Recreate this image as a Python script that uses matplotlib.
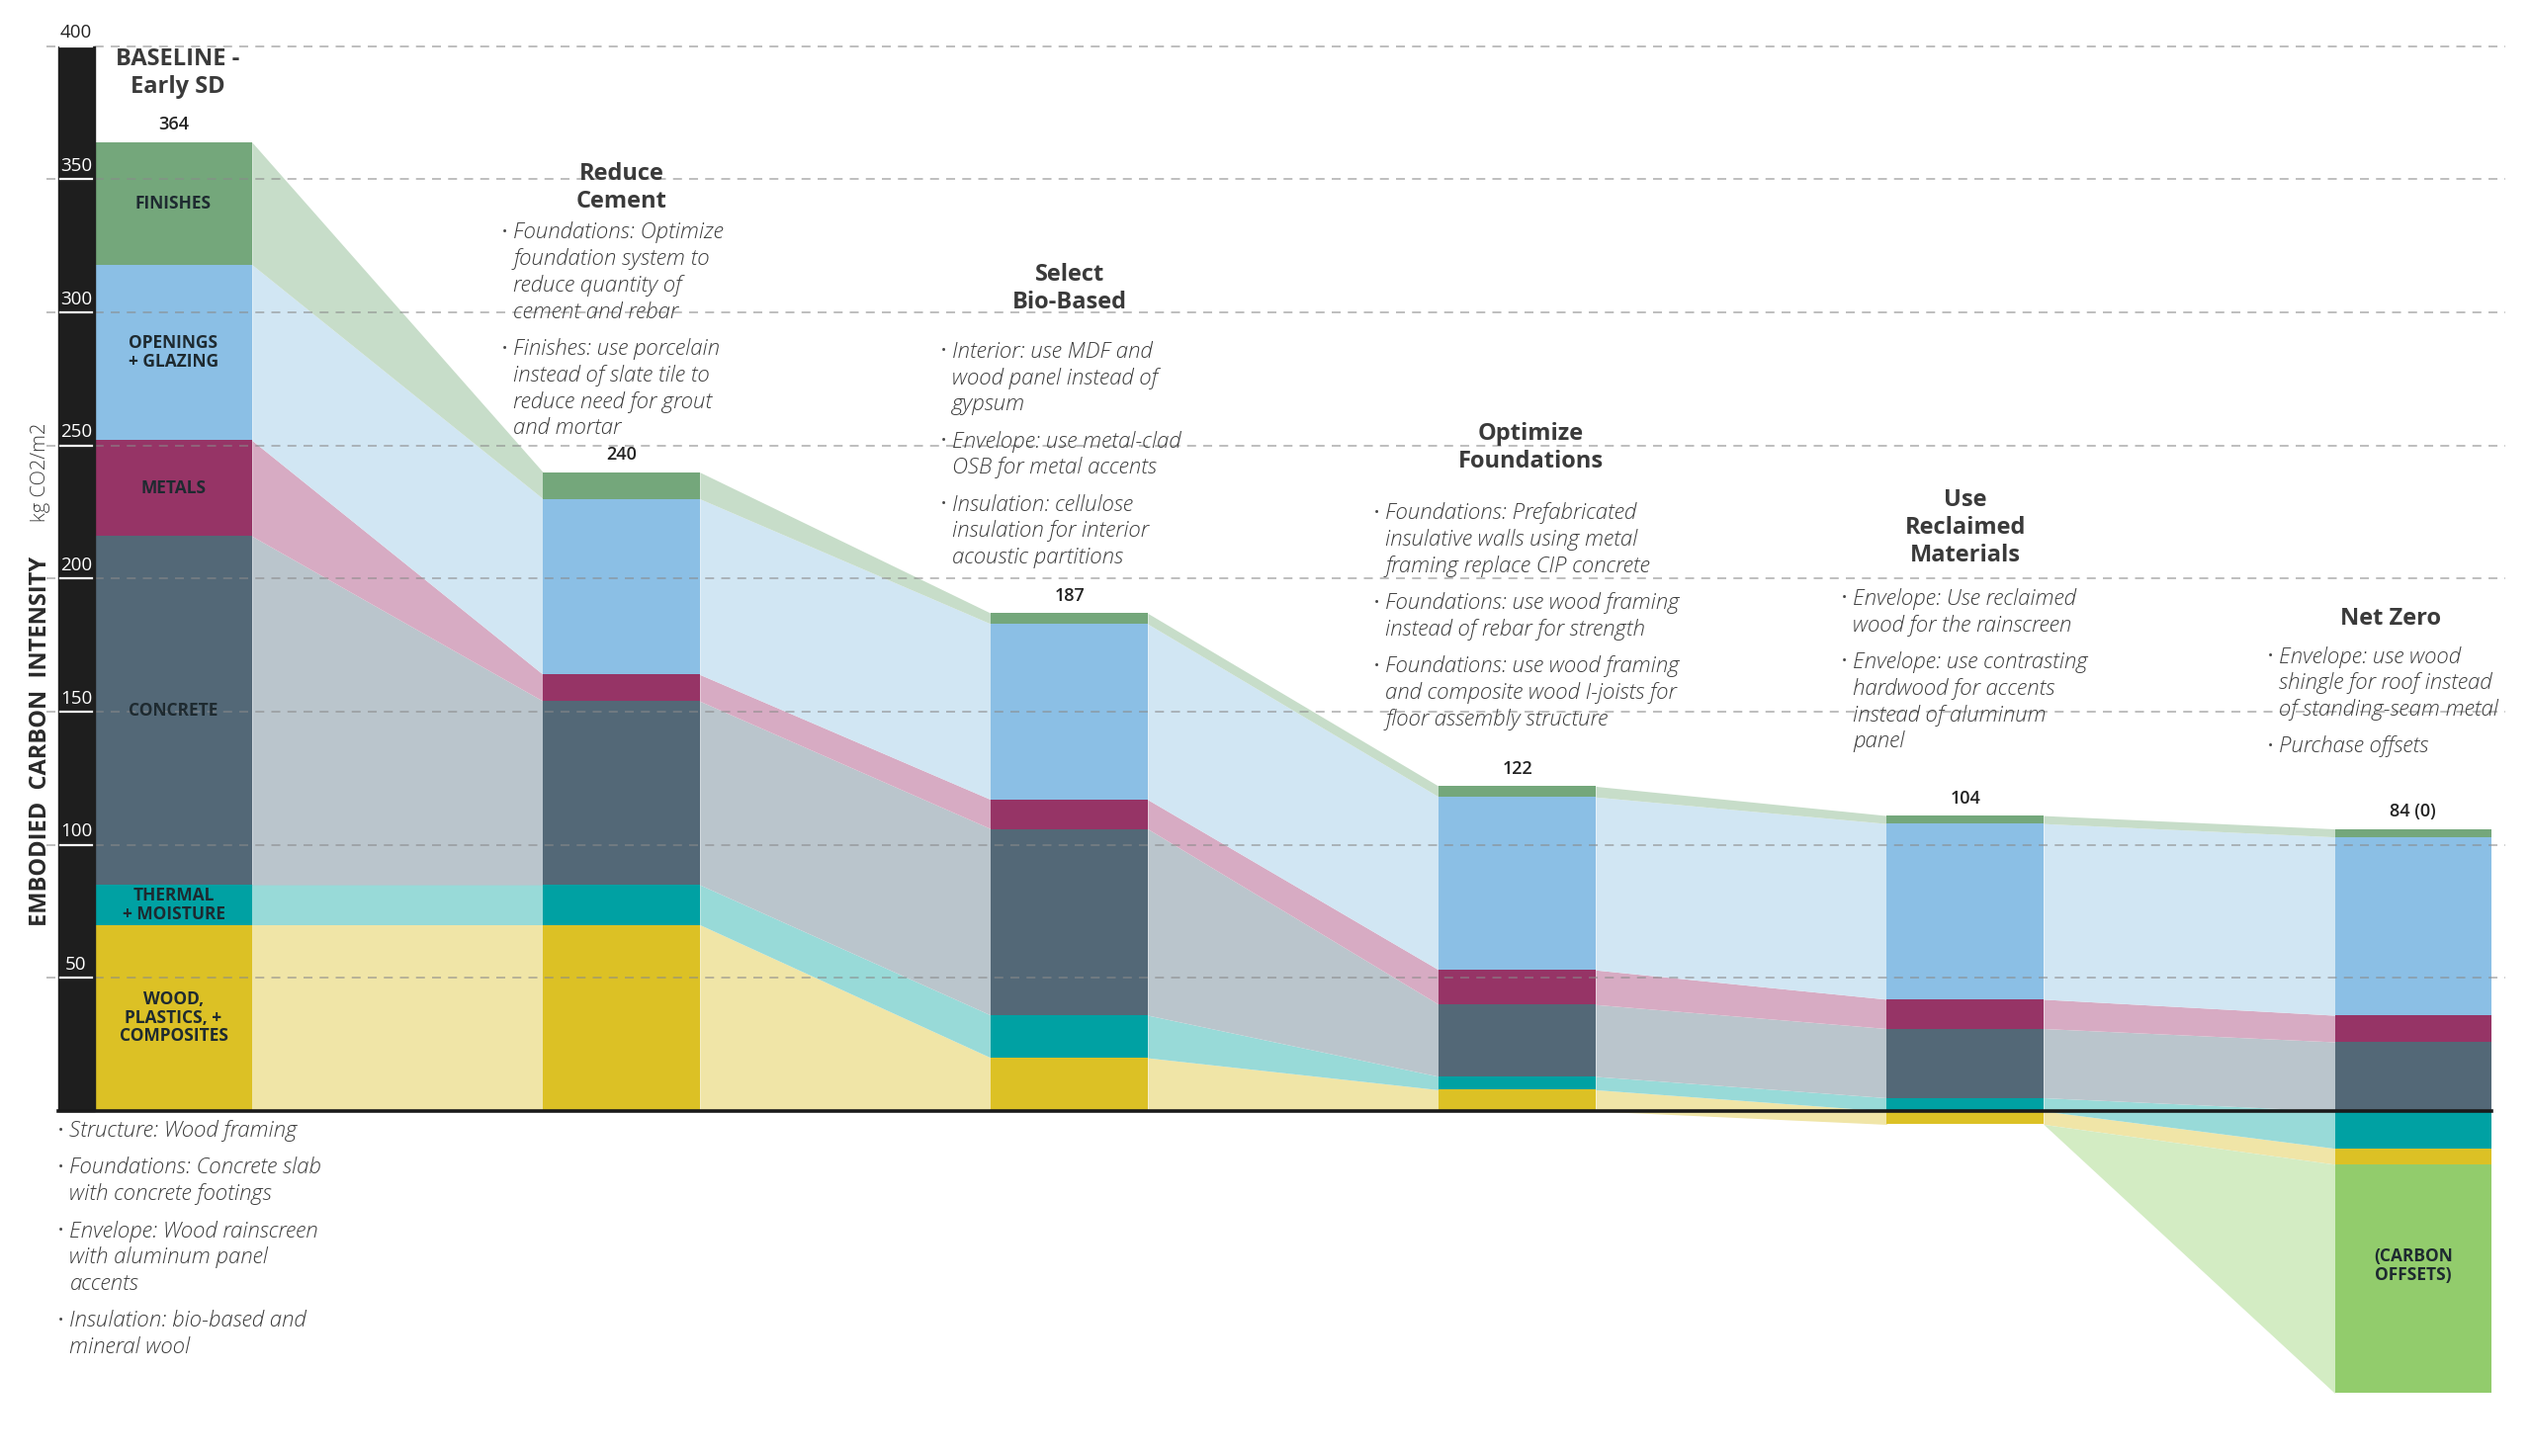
import numpy as np
import matplotlib.pyplot as plt
from matplotlib.patches import Rectangle

plt.rcParams['font.family'] = ['Open Sans', 'DejaVu Sans']

steps = ['BASELINE -\nEarly SD', 'Reduce\nCement', 'Select\nBio-Based',
         'Optimize\nFoundations', 'Use\nReclaimed\nMaterials', 'Net Zero']
total_labels = ['364', '240', '187', '122', '104', '84 (0)']

# kg CO2/m2 per category and step
wood     = [70, 70, 20,  8, -5,  -6]
thermal  = [15, 15, 16,  5,  5, -14]
concrete = [131, 69, 70, 27, 26, 26]
metals   = [36, 10, 11, 13, 11, 10]
openings = [66, 66, 66, 65, 66, 67]
finishes = [46, 10,  4,  4,  3,  3]
offsets  = [0, 0, 0, 0, 0, -86]

cat_names = ['WOOD,\nPLASTICS, +\nCOMPOSITES', 'THERMAL\n+ MOISTURE', 'CONCRETE',
             'METALS', 'OPENINGS\n+ GLAZING', 'FINISHES', '(CARBON\nOFFSETS)']
bar_colors = ['#dcc125', '#00a1a3', '#536877', '#963466', '#8bbfe5', '#74a77b', '#92cc6c']
band_colors = ['#f0e5a7', '#98dad8', '#bac5cc', '#d7abc3', '#d1e6f3', '#c7ddc9', '#d3ecc3']

notes = [
    [['Structure: Wood framing'],
     ['Foundations: Concrete slab', 'with concrete footings'],
     ['Envelope: Wood rainscreen', 'with aluminum panel', 'accents'],
     ['Insulation: bio-based and', 'mineral wool']],
    [['Foundations: Optimize', 'foundation system to', 'reduce quantity of', 'cement and rebar'],
     ['Finishes: use porcelain', 'instead of slate tile to', 'reduce need for grout', 'and mortar']],
    [['Interior: use MDF and', 'wood panel instead of', 'gypsum'],
     ['Envelope: use metal-clad', 'OSB for metal accents'],
     ['Insulation: cellulose', 'insulation for interior', 'acoustic partitions']],
    [['Foundations: Prefabricated', 'insulative walls using metal', 'framing replace CIP concrete'],
     ['Foundations: use wood framing', 'instead of rebar for strength'],
     ['Foundations: use wood framing', 'and composite wood I-joists for', 'floor assembly structure']],
    [['Envelope: Use reclaimed', 'wood for the rainscreen'],
     ['Envelope: use contrasting', 'hardwood for accents', 'instead of aluminum', 'panel']],
    [['Envelope: use wood', 'shingle for roof instead', 'of standing-seam metal'],
     ['Purchase offsets']],
]

series = [wood, thermal, concrete, metals, openings, finishes, offsets]
n = len(steps)
x = np.arange(n)
w = 0.35

# stack: positives upward, negatives downward (thermal, wood, offsets)
bottoms = np.zeros((len(series), n))
tops = np.zeros((len(series), n))
for j in range(n):
    pos = 0.0
    for i in [0, 1, 2, 3, 4, 5]:
        v = series[i][j]
        if v >= 0:
            bottoms[i, j], tops[i, j] = pos, pos + v
            pos += v
    neg = 0.0
    for i in [1, 0, 6]:
        v = series[i][j]
        if v < 0 or i == 6:
            bottoms[i, j], tops[i, j] = neg + v, neg
            neg += v

fig = plt.figure(figsize=(25.6, 14.73), dpi=100)
ax = fig.add_axes([0, 0, 1, 1])
ax.set_xlim(-0.3874, 5.2631)
ax.set_ylim(-129.6, 417.4)
ax.axis('off')

for i in range(len(series)):
    for j in range(n - 1):
        ax.fill_between([x[j] + w / 2, x[j + 1] - w / 2],
                        [bottoms[i, j], bottoms[i, j + 1]],
                        [tops[i, j], tops[i, j + 1]],
                        color=band_colors[i], lw=0, zorder=1)
    ax.bar(x, tops[i] - bottoms[i], bottom=bottoms[i], width=w,
           color=bar_colors[i], lw=0, zorder=2)

# grid
for v in range(50, 401, 50):
    ax.plot([-0.283, 5.205], [v, v], color='#8a8a8a', lw=1.3, ls=(0, (5, 4)),
            alpha=0.6, zorder=3)

# black axis bar with white ticks
ax.add_patch(Rectangle((-0.2577, 0), 0.0829, 400, color='#1e1e1e', zorder=4))
ax.plot([-0.2577, x[-1] + w / 2], [0, 0], color='#1a1a1a', lw=2.6, zorder=4)
for v in range(50, 401, 50):
    ax.plot([-0.253, -0.182], [v, v], color='white', lw=1.6, zorder=5)
    ax.text(-0.2175, v + 5, str(v), ha='center', va='center', fontsize=13.5,
            color='#222222' if v == 400 else 'white', zorder=6)

ax.text(-0.297, 139, 'EMBODIED  CARBON  INTENSITY', rotation=90, ha='center',
        va='center', fontsize=17, fontweight='bold', color='#2a2a2a')
ax.text(-0.297, 240, 'kg CO2/m2', rotation=90, ha='center', va='center',
        fontsize=14.5, fontweight='light', color='#3a3a3a')

# titles and totals
title_x = [0.01, 1.0, 2.0, 3.03, 4.0, 4.95]
title_y = [390, 347, 309, 249, 219, 185]
for j in range(n):
    ax.text(title_x[j], title_y[j], steps[j], ha='center', va='center',
            fontsize=17, fontweight='bold', color='#3a3a3a', linespacing=1.22)
    pos_top = tops[:6, j].max()
    ax.text(x[j], pos_top + 6.5, total_labels[j], ha='center', va='center',
            fontsize=13, fontweight=600, color='#222222')

# category labels on baseline bar and offsets
for i in range(6):
    ax.text(x[0], (bottoms[i, 0] + tops[i, 0]) / 2, cat_names[i], ha='center',
            va='center', fontsize=12.5, fontweight='bold', color='#1e2a30',
            linespacing=1.05, zorder=6)
ax.text(x[-1], (bottoms[6, -1] + tops[6, -1]) / 2 + 5, cat_names[6], ha='center',
        va='center', fontsize=12.5, fontweight='bold', color='#1e2a30',
        linespacing=1.05, zorder=6)

# bullet notes
note_x = [-0.258, 0.733, 1.713, 2.68, 3.724, 4.675]
note_y = [-7.5, 330, 285.3, 224.5, 192.4, 170.6]
step_y = 9.95
for j in range(n):
    y = note_y[j]
    for item in notes[j]:
        for k, line in enumerate(item):
            if k == 0:
                ax.text(note_x[j], y, '•', ha='left', va='center', fontsize=10,
                        color='#444444', zorder=6)
            ax.text(note_x[j] + 0.026, y, line, ha='left', va='center',
                    fontsize=16, fontstyle='italic', fontweight='light',
                    color='#3c3c3c', zorder=6)
            y -= step_y
        y -= 3.9

plt.savefig('out.png', dpi=100)
